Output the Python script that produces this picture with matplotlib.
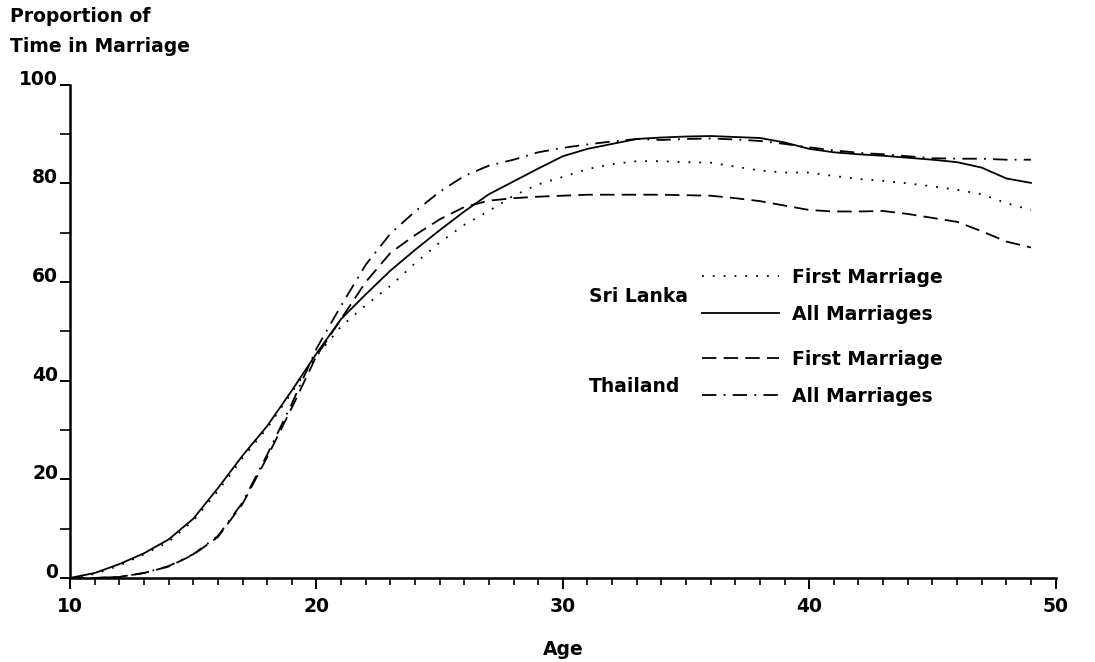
#!/usr/bin/env python3
"""Proportion of time in marriage by age, Sri Lanka and Thailand."""

import matplotlib

matplotlib.use("Agg")
import matplotlib.pyplot as plt
from matplotlib.lines import Line2D
from matplotlib.ticker import MultipleLocator

ages = list(range(10, 50))

sri_lanka_first = [
    0, 0.8, 2.5, 4.8, 7.3, 11.6, 17.6, 24.3, 30.4, 37.6,
    45.0, 51.0, 55.3, 59.2, 63.8, 68.0, 71.6, 74.4, 77.5, 79.8,
    81.3, 82.9, 83.9, 84.5, 84.5, 84.3, 84.2, 83.4, 82.6, 82.2,
    82.2, 81.5, 80.9, 80.5, 80.0, 79.4, 78.7, 77.8, 76.0, 74.6,
]
sri_lanka_all = [
    0, 1.0, 2.8, 5.0, 7.8, 12.0, 18.2, 24.8, 30.8, 38.0,
    45.5, 52.5, 57.5, 62.3, 66.5, 70.5, 74.3, 77.8, 80.4, 83.0,
    85.5, 87.0, 88.0, 89.0, 89.3, 89.5, 89.6, 89.4, 89.2, 88.3,
    87.0, 86.3, 85.9, 85.6, 85.2, 84.8, 84.3, 83.2, 81.0, 80.1,
]
thailand_first = [
    0, 0, 0.2, 1.0, 2.3, 4.7, 8.3, 15.0, 24.5, 34.5,
    45.0, 52.5, 60.0, 65.9, 69.5, 72.7, 75.2, 76.5, 77.0, 77.3,
    77.5, 77.7, 77.7, 77.7, 77.7, 77.6, 77.5, 77.0, 76.4, 75.5,
    74.6, 74.3, 74.3, 74.4, 73.8, 73.0, 72.2, 70.3, 68.2, 67.0,
]
thailand_all = [
    0, 0, 0.2, 1.0, 2.4, 4.8, 8.5, 15.3, 25.0, 35.3,
    46.5, 55.2, 63.5, 69.8, 74.3, 78.3, 81.5, 83.6, 84.8, 86.3,
    87.2, 87.9, 88.5, 89.0, 88.8, 89.0, 89.1, 88.9, 88.6, 88.0,
    87.3, 86.7, 86.2, 85.9, 85.5, 85.1, 85.0, 85.0, 84.8, 84.8,
]

x_ticks = [10, 20, 30, 40, 50]
y_ticks = [0, 20, 40, 60, 80, 100]

DOTTED = (0, (1, 5))
DASHED = (0, (8, 4))
DASHDOT = (0, (8, 4, 1, 4))
LW = 1.3
FS = 13.5
FONT = {"family": "DejaVu Sans", "weight": "bold", "size": FS}

plt.rcParams["font.family"] = "DejaVu Sans"
plt.rcParams["font.weight"] = "bold"

fig = plt.figure(figsize=(10.95, 6.62), dpi=100)
ax = fig.add_axes([0.064, 0.127, 0.900, 0.745])

ax.plot(ages, sri_lanka_first, color="black", lw=LW, ls=DOTTED)
ax.plot(ages, sri_lanka_all, color="black", lw=LW, ls="-")
ax.plot(ages, thailand_first, color="black", lw=LW, ls=DASHED)
ax.plot(ages, thailand_all, color="black", lw=LW, ls=DASHDOT)

ax.set_xlim(10, 50)
ax.set_ylim(0, 100)
ax.set_xticks(x_ticks)
ax.set_yticks(y_ticks)
ax.xaxis.set_minor_locator(MultipleLocator(1))
ax.yaxis.set_minor_locator(MultipleLocator(10))
ax.tick_params(which="major", direction="out", length=8, width=1.4,
               labelsize=FS, pad=6)
ax.tick_params(which="minor", direction="out", length=5, width=1.2)
ax.tick_params(axis="y", which="major", length=7, pad=1.5)
ax.tick_params(axis="y", which="minor", length=7)
for lab in ax.get_yticklabels():
    lab.set_verticalalignment("baseline")
for lab in ax.get_xticklabels() + ax.get_yticklabels():
    lab.set_fontweight("bold")

for side in ("top", "right"):
    ax.spines[side].set_visible(False)
for side in ("left", "bottom"):
    ax.spines[side].set_linewidth(1.8)

ax.set_xlabel("Age", fontdict=FONT, labelpad=17)
fig.text(10 / 1095, 1 - 17 / 662, "Proportion of", fontdict=FONT, va="center")
fig.text(10 / 1095, 1 - 47 / 662, "Time in Marriage", fontdict=FONT, va="center")

# two small legends, one per country, with the country name to the left
legend_kw = dict(
    frameon=False, prop=FONT, handlelength=4.1, handletextpad=0.7,
    labelspacing=0.95, borderpad=0, borderaxespad=0, loc="upper left",
    bbox_transform=fig.transFigure,
)
sri_handles = [
    Line2D([], [], color="black", lw=LW, ls=DOTTED),
    Line2D([], [], color="black", lw=LW, ls="-"),
]
thai_handles = [
    Line2D([], [], color="black", lw=LW, ls=DASHED),
    Line2D([], [], color="black", lw=LW, ls=DASHDOT),
]
leg_sri = ax.legend(sri_handles, ["First Marriage", "All Marriages"],
                    bbox_to_anchor=(702 / 1095, 1 - 268 / 662), **legend_kw)
ax.add_artist(leg_sri)
ax.legend(thai_handles, ["First Marriage", "All Marriages"],
          bbox_to_anchor=(702 / 1095, 1 - 350 / 662), **legend_kw)

fig.text(688 / 1095, 1 - 297 / 662, "Sri Lanka", fontdict=FONT,
         ha="right", va="center")
fig.text(680 / 1095, 1 - 387 / 662, "Thailand", fontdict=FONT,
         ha="right", va="center")

fig.savefig("out.png", dpi=100, facecolor="white")
